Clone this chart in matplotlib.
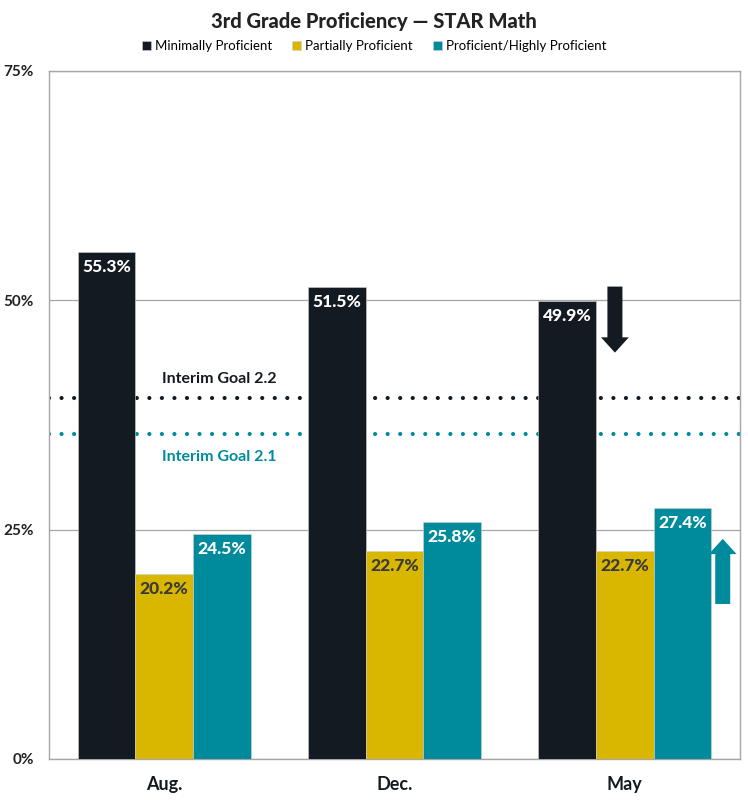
import matplotlib.pyplot as plt
import numpy as np

plt.rcParams['font.family'] = ['Lato', 'DejaVu Sans']

months = ['Aug.', 'Dec.', 'May']
minimal = [55.3, 51.5, 49.9]
partial = [20.2, 22.7, 22.7]
proficient = [24.5, 25.8, 27.4]
series_names = ['Minimally Proficient', 'Partially Proficient', 'Proficient/Highly Proficient']
goal_22 = 39.4
goal_21 = 35.4
y_ticks = [0, 25, 50, 75]

dark = '#141a21'
yellow = '#d9b600'
teal = '#008b9c'
grey = '#a6a6a6'

fig = plt.figure(figsize=(7.48, 8), dpi=100)
ax = fig.add_axes([0.0655, 0.05125, 0.9238, 0.86])

x = np.arange(len(months))
w = 0.25
series = [minimal, partial, proficient]
colors = [dark, yellow, teal]
label_colors = ['white', '#3a3a3a', 'white']

for i, (vals, c, lc, name) in enumerate(zip(series, colors, label_colors, series_names)):
    pos = x + (i - 1) * w
    ax.bar(pos, vals, w, color=c, edgecolor='#d0d0d0', linewidth=0.4, label=name, zorder=3)
    for px, v in zip(pos, vals):
        ax.text(px, v - 1.65, f'{v}%', ha='center', va='center', color=lc,
                fontsize=12.5, fontweight='black', zorder=4)

# interim goal lines
ax.axhline(goal_22, color=dark, linestyle=(0, (0.01, 3)), linewidth=3,
           dash_capstyle='round', zorder=2)
ax.axhline(goal_21, color=teal, linestyle=(0, (0.01, 3)), linewidth=3,
           dash_capstyle='round', zorder=2)
ax.text(0.24, goal_22 + 2.0, 'Interim Goal 2.2', ha='center', va='center',
        color=dark, fontsize=11.5, fontweight='bold')
ax.text(0.24, goal_21 - 2.5, 'Interim Goal 2.1', ha='center', va='center',
        color=teal, fontsize=11.5, fontweight='bold')

# trend arrows
arrow = 'simple,head_width=2.0,head_length=1.1,tail_width=1.08'
ax.annotate('', xy=(2 - 0.043, minimal[2] - 5.6), xytext=(2 - 0.043, minimal[2] + 1.6),
            arrowprops=dict(arrowstyle=arrow, color=dark, lw=0, shrinkA=0, shrinkB=0,
                            mutation_scale=10))
ax.annotate('', xy=(2 + 0.425, proficient[2] - 3.4), xytext=(2 + 0.425, proficient[2] - 10.5),
            arrowprops=dict(arrowstyle=arrow, color=teal, lw=0, shrinkA=0, shrinkB=0,
                            mutation_scale=10))

ax.set_ylim(0, 75)
ax.set_xlim(-0.5, 2.5)
ax.set_yticks(y_ticks)
ax.set_yticklabels([f'{t}%' for t in y_ticks], fontsize=11, fontweight='bold', color='#222222')
ax.set_xticks(x)
ax.set_xticklabels(months, fontsize=13, fontweight='bold', color=dark)
ax.tick_params(length=0)
ax.tick_params(axis='x', pad=12)
ax.tick_params(axis='y', pad=11)
ax.yaxis.grid(True, color=grey, linewidth=0.9, zorder=0)
ax.set_axisbelow(True)
for s in ax.spines.values():
    s.set_color(grey)
    s.set_linewidth(1.0)

fig.suptitle('3rd Grade Proficiency — STAR Math', y=0.985, fontsize=14.5,
             fontweight='black', color='#222222')
fig.legend(loc='center', bbox_to_anchor=(0.5, 0.9425), ncol=3, frameon=False,
           fontsize=9.5, handlelength=0.7, handleheight=0.7, handletextpad=0.3,
           columnspacing=1.5)

fig.savefig('out.png', dpi=100)
